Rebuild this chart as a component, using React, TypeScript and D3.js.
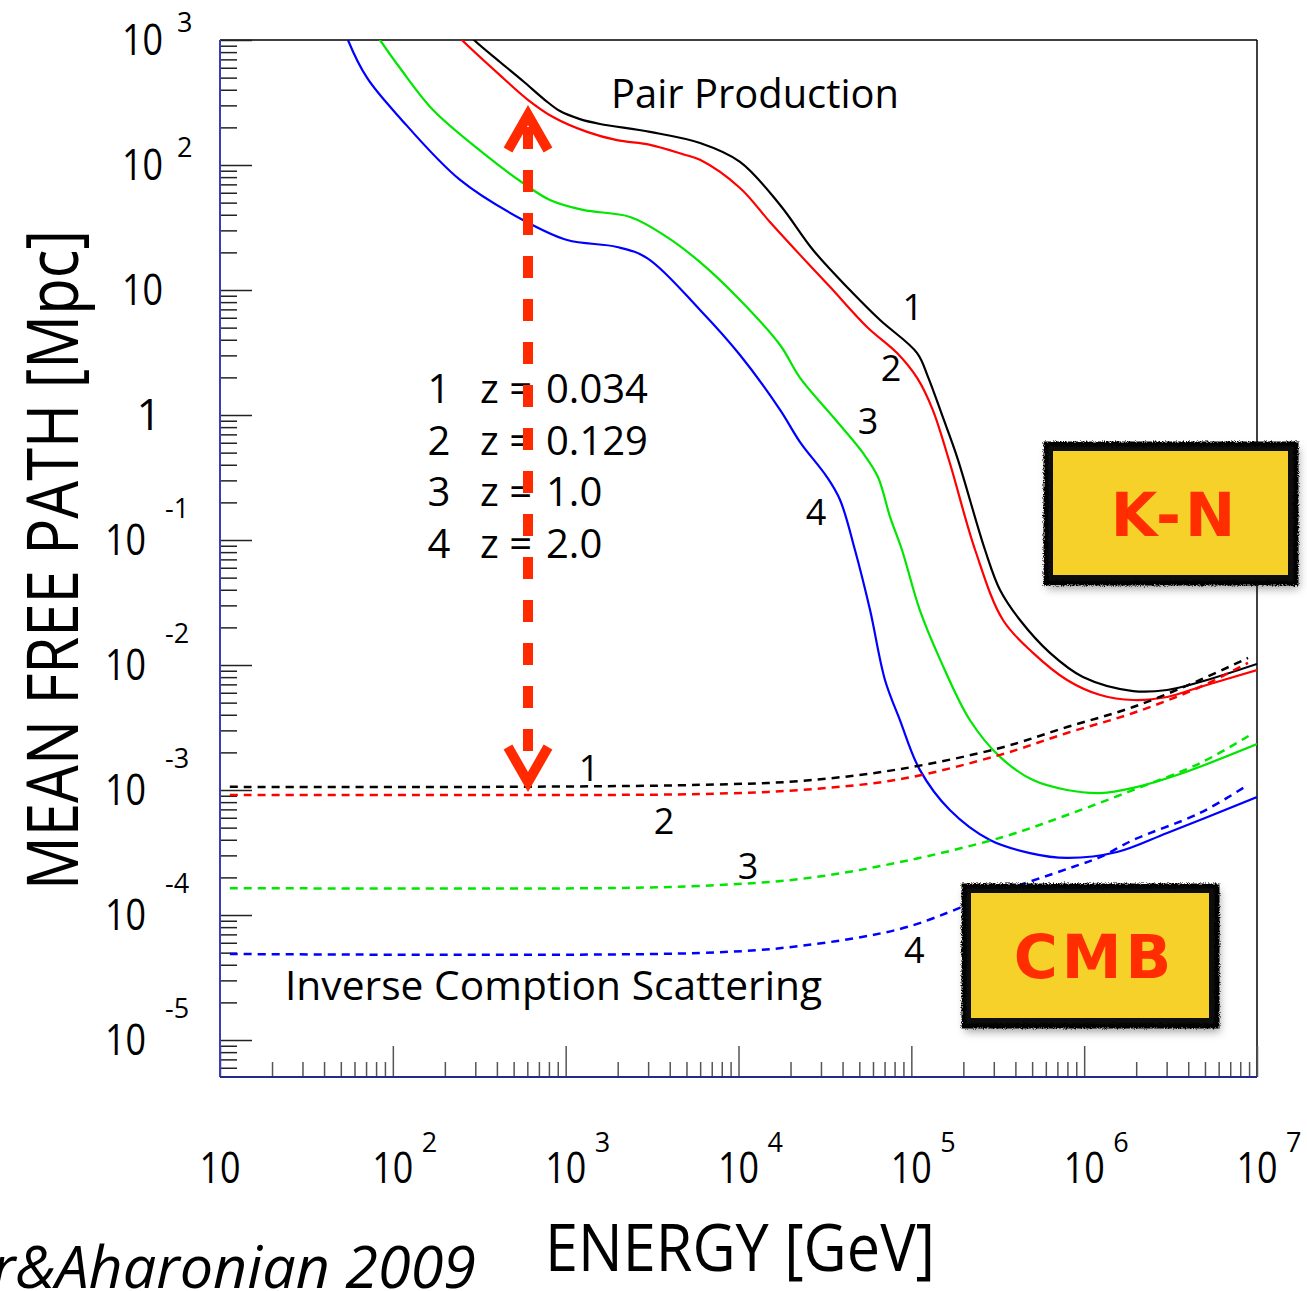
import React, { useRef, useEffect } from "react";
import * as d3 from "d3";

const W = 1307;
const H = 1291;
const plot = { left: 220, top: 40, right: 1257, bottom: 1077 };

// axis ranges
const energyDomain = [10, 1e7]; // GeV
const mfpDomain = [5.06e-6, 1e3]; // Mpc
const xTickExps = [1, 2, 3, 4, 5, 6, 7];
const yTickExps = [-5, -4, -3, -2, -1, 0, 1, 2, 3];

// pair production, solid curves (E in GeV, mean free path in Mpc)
const pp1E = [245, 295, 417, 566, 759, 927, 1210, 1580, 3080, 5990, 10200, 17400, 27000, 44100, 65900, 108000, 125000, 152000, 184000, 267000, 326000, 425000, 634000, 984000, 1.92e6, 3.02e6, 4.68e6, 1e7];
const pp1L = [1318, 1000, 667, 470, 331, 270, 233, 213, 184, 150, 106, 47.9, 20.9, 10, 5.75, 3.13, 2.01, 0.964, 0.461, 0.0832, 0.0398, 0.0229, 0.0125, 0.00802, 0.00619, 0.00631, 0.00731, 0.0102];

const pp2E = [200, 251, 434, 597, 845, 1330, 1980, 3080, 4770, 5990, 10200, 15200, 22700, 33800, 55400, 82700, 108000, 133000, 167000, 234000, 339000, 506000, 796000, 1.24e6, 1.92e6, 3.02e6, 4.68e6, 1e7];
const pp2L = [1393, 1000, 497, 337, 242, 184, 158, 145, 122, 110, 65.5, 35, 19.1, 10.6, 5.06, 3.13, 1.98, 1.1, 0.413, 0.0832, 0.0229, 0.0125, 0.00759, 0.00575, 0.00525, 0.00555, 0.00667, 0.00912];

const pp3E = [71.8, 84.3, 110, 171, 332, 566, 811, 1260, 2360, 3860, 5990, 10200, 17400, 22700, 35300, 52500, 64100, 75300, 88300, 112000, 147000, 218000, 326000, 506000, 796000, 1.24e6, 1.92e6, 3.73e6, 1e7];
const pp3L = [1393, 1000, 597, 275, 125, 71.8, 52.5, 43.7, 38.4, 26.5, 16.7, 8.32, 3.63, 1.98, 0.964, 0.497, 0.319, 0.153, 0.0832, 0.0275, 0.011, 0.00363, 0.00184, 0.0012, 0.001, 0.000946, 0.00104, 0.00137, 0.00233];

const pp4E = [50.8, 55, 71, 110, 245, 566, 1020, 1980, 2960, 5990, 10200, 17400, 22700, 32500, 38700, 47200, 57700, 70400, 85900, 112000, 167000, 285000, 486000, 796000, 1.55e6, 3.02e6, 1e7];
const pp4L = [1393, 1000, 497, 238, 75.9, 36.3, 25.1, 22.1, 18.0, 6.92, 3.02, 1.1, 0.608, 0.319, 0.209, 0.0832, 0.0275, 0.00759, 0.00363, 0.00145, 0.000692, 0.000398, 0.000313, 0.000286, 0.000319, 0.000453, 0.000879];

// inverse compton on CMB, dashed curves
const ic12E = [11.4, 417, 5990, 22700, 85900, 326000, 796000, 1.92e6, 4.68e6, 8.87e6];
const ic1L = [1.06e-3, 1.06e-3, 1.1e-3, 1.18e-3, 1.47e-3, 2.17e-3, 3.19e-3, 4.61e-3, 7.59e-3, 1.14e-2];
const ic2L = [9.12e-4, 9.12e-4, 9.29e-4, 1e-3, 1.22e-3, 1.91e-3, 2.86e-3, 4.13e-3, 6.67e-3, 1.04e-2];
const ic3E = [11.4, 1580, 5990, 22700, 85900, 339000, 796000, 1.92e6, 4.68e6, 9.12e6];
const ic3L = [1.64e-4, 1.64e-4, 1.71e-4, 1.94e-4, 2.65e-4, 4.21e-4, 6.31e-4, 1e-3, 1.64e-3, 2.75e-3];
const ic4E = [11.4, 5990, 22700, 85900, 167000, 260000, 828000, 1.24e6, 1.92e6, 4.68e6, 8.51e6];
const ic4L = [4.88e-5, 4.97e-5, 5.65e-5, 7.73e-5, 1.06e-4, 1.37e-4, 2.38e-4, 2.91e-4, 3.98e-4, 6.55e-4, 1.06e-3];

const curveColors = ["#000000", "#ff0000", "#00e600", "#0000ff"];
const redshifts = ["0.034", "0.129", "1.0", "2.0"];

// where the numbers 1..4 sit next to the curves (data coords)
const ppLabelE = [1.02e5, 7.62e4, 5.61e4, 2.81e4];
const ppLabelL = [7.3, 2.38, 0.895, 0.1675];
const icLabelE = [1365, 3707, 11350, 1.04e5];
const icLabelL = [1.5e-3, 5.65e-4, 2.47e-4, 5.25e-5];

const FONT = "'Open Sans', 'Noto Sans', sans-serif";

const App = () => {
  const svgRef = useRef(null);

  useEffect(() => {
    const svg = d3.select(svgRef.current);
    svg.selectAll("*").remove();

    const x = d3.scaleLog().domain(energyDomain).range([plot.left, plot.right]);
    const y = d3.scaleLog().domain(mfpDomain).range([plot.bottom, plot.top]);

    const defs = svg.append("defs");
    defs.append("clipPath").attr("id", "plotclip")
      .append("rect")
      .attr("x", plot.left).attr("y", plot.top)
      .attr("width", plot.right - plot.left).attr("height", plot.bottom - plot.top);

    const rough = defs.append("filter").attr("id", "rough")
      .attr("x", "-5%").attr("y", "-5%").attr("width", "110%").attr("height", "110%");
    rough.append("feTurbulence").attr("type", "fractalNoise")
      .attr("baseFrequency", "0.9").attr("numOctaves", 2).attr("seed", 3).attr("result", "noise");
    rough.append("feDisplacementMap").attr("in", "SourceGraphic").attr("in2", "noise")
      .attr("scale", 5).attr("xChannelSelector", "R").attr("yChannelSelector", "G");

    const shadow = defs.append("filter").attr("id", "shadow")
      .attr("x", "-10%").attr("y", "-10%").attr("width", "125%").attr("height", "130%");
    shadow.append("feDropShadow").attr("dx", 2).attr("dy", 5).attr("stdDeviation", 4)
      .attr("flood-color", "#000").attr("flood-opacity", 0.35);

    // frame
    svg.append("line").attr("x1", plot.left).attr("x2", plot.right)
      .attr("y1", plot.top).attr("y2", plot.top).attr("stroke", "#000").attr("stroke-width", 1.5);
    svg.append("line").attr("x1", plot.right).attr("x2", plot.right)
      .attr("y1", plot.top).attr("y2", plot.bottom).attr("stroke", "#000").attr("stroke-width", 1.5);

    // y ticks (pointing into plot)
    const yMinor = y.ticks().filter(v => Math.abs(Math.log10(v) - Math.round(Math.log10(v))) > 1e-6);
    const yMajor = yTickExps.map(e => Math.pow(10, e));
    const yg = svg.append("g").attr("transform", `translate(${plot.left},0)`);
    yg.append("g").call(d3.axisRight(y).tickValues(yMinor).tickSize(17).tickFormat(() => ""));
    yg.append("g").call(d3.axisRight(y).tickValues(yMajor).tickSize(32).tickFormat(() => ""));
    yg.selectAll(".domain").remove();
    yg.selectAll(".tick line").attr("stroke", "#222").attr("stroke-width", 1.5);

    // x ticks (pointing up)
    const xMinor = x.ticks().filter(v => Math.abs(Math.log10(v) - Math.round(Math.log10(v))) > 1e-6);
    const xMajor = xTickExps.map(e => Math.pow(10, e));
    const xg = svg.append("g").attr("transform", `translate(0,${plot.bottom})`);
    xg.append("g").call(d3.axisTop(x).tickValues(xMinor).tickSize(15).tickFormat(() => ""));
    xg.append("g").call(d3.axisTop(x).tickValues(xMajor).tickSize(31).tickFormat(() => ""));
    xg.selectAll(".domain").remove();
    xg.selectAll(".tick line").attr("stroke", "#555").attr("stroke-width", 1.5);

    // left and bottom axis lines
    svg.append("line").attr("x1", plot.left).attr("x2", plot.left)
      .attr("y1", plot.top).attr("y2", plot.bottom).attr("stroke", "#3c3cb4").attr("stroke-width", 2);
    svg.append("line").attr("x1", plot.left).attr("x2", plot.right)
      .attr("y1", plot.bottom).attr("y2", plot.bottom).attr("stroke", "#26288a").attr("stroke-width", 2);

    // y tick labels
    yTickExps.forEach(e => {
      const cy = y(Math.pow(10, e));
      if (e === 0) {
        svg.append("text").attr("x", 161).attr("y", cy + 15).attr("text-anchor", "end")
          .attr("font-family", FONT).attr("font-size", 43).text("1");
        return;
      }
      const neg = e < 0;
      const right = neg ? 146 : 163;
      svg.append("text").attr("x", right).attr("y", cy + 15).attr("text-anchor", "end")
        .attr("font-family", FONT).attr("font-size", 43)
        .attr("textLength", 41).attr("lengthAdjust", "spacingAndGlyphs").text("10");
      if (e !== 1) {
        svg.append("text").attr("x", neg ? 165 : 177).attr("y", neg ? cy - 22 : cy - 8)
          .attr("font-family", FONT).attr("font-size", 27).text(String(e));
      }
    });

    // x tick labels
    xTickExps.forEach(e => {
      const cx = x(Math.pow(10, e));
      svg.append("text").attr("x", cx).attr("y", 1183).attr("text-anchor", "middle")
        .attr("font-family", FONT).attr("font-size", 43)
        .attr("textLength", 41).attr("lengthAdjust", "spacingAndGlyphs").text("10");
      if (e !== 1) {
        svg.append("text").attr("x", cx + 29).attr("y", 1152)
          .attr("font-family", FONT).attr("font-size", 27).text(String(e));
      }
    });

    // axis titles
    svg.append("text").attr("transform", "translate(78,560) rotate(-90)")
      .attr("text-anchor", "middle").attr("font-family", FONT).attr("font-size", 72)
      .attr("textLength", 660).attr("lengthAdjust", "spacingAndGlyphs")
      .text("MEAN FREE PATH [Mpc]");
    svg.append("text").attr("x", 545).attr("y", 1271)
      .attr("font-family", FONT).attr("font-size", 66)
      .attr("textLength", 390).attr("lengthAdjust", "spacingAndGlyphs")
      .text("ENERGY [GeV]");

    // curves
    const line = d3.line().x(d => x(d[0])).y(d => y(d[1])).curve(d3.curveCatmullRom.alpha(0.5));
    const curves = [
      { E: pp1E, L: pp1L, c: 0, dash: false },
      { E: pp2E, L: pp2L, c: 1, dash: false },
      { E: pp3E, L: pp3L, c: 2, dash: false },
      { E: pp4E, L: pp4L, c: 3, dash: false },
      { E: ic12E, L: ic1L, c: 0, dash: true },
      { E: ic12E, L: ic2L, c: 1, dash: true },
      { E: ic3E, L: ic3L, c: 2, dash: true },
      { E: ic4E, L: ic4L, c: 3, dash: true },
    ];
    const cg = svg.append("g").attr("clip-path", "url(#plotclip)");
    curves.forEach(s => {
      cg.append("path")
        .attr("d", line(s.E.map((e, i) => [e, s.L[i]])))
        .attr("fill", "none")
        .attr("stroke", curveColors[s.c])
        .attr("stroke-width", s.dash ? 2.5 : 2.2)
        .attr("stroke-dasharray", s.dash ? "8 6" : null);
    });

    // curve number labels
    ppLabelE.forEach((e, i) => {
      svg.append("text").attr("x", x(e)).attr("y", y(ppLabelL[i]) + 13)
        .attr("text-anchor", "middle").attr("font-family", FONT).attr("font-size", 36)
        .text(String(i + 1));
    });
    icLabelE.forEach((e, i) => {
      svg.append("text").attr("x", x(e)).attr("y", y(icLabelL[i]) + 13)
        .attr("text-anchor", "middle").attr("font-family", FONT).attr("font-size", 36)
        .text(String(i + 1));
    });

    // annotations
    svg.append("text").attr("x", 611).attr("y", 108).attr("font-family", FONT)
      .attr("font-size", 40).attr("textLength", 288).attr("lengthAdjust", "spacingAndGlyphs")
      .text("Pair Production");
    svg.append("text").attr("x", 285).attr("y", 1000).attr("font-family", FONT)
      .attr("font-size", 40).attr("textLength", 537).attr("lengthAdjust", "spacingAndGlyphs")
      .text("Inverse Comption Scattering");

    // redshift legend
    redshifts.forEach((z, i) => {
      const by = 403 + i * 51.7;
      svg.append("text").attr("x", 439).attr("y", by).attr("text-anchor", "middle")
        .attr("font-family", FONT).attr("font-size", 40).text(String(i + 1));
      svg.append("text").attr("x", 480).attr("y", by)
        .attr("font-family", FONT).attr("font-size", 40).text("z =");
      svg.append("text").attr("x", 546).attr("y", by)
        .attr("font-family", FONT).attr("font-size", 40).text(z);
    });

    // red double arrow
    const ax = 528;
    const arrow = svg.append("g").attr("stroke", "#ff2a00").attr("fill", "none");
    arrow.append("line").attr("x1", ax).attr("x2", ax).attr("y1", 127).attr("y2", 768)
      .attr("stroke-width", 10).attr("stroke-dasharray", "22 21");
    arrow.append("path").attr("d", `M${ax - 20},${150} L${ax},${115} L${ax + 20},${150}`)
      .attr("stroke-width", 10).attr("stroke-linejoin", "miter");
    arrow.append("path").attr("d", `M${ax - 20},${747} L${ax},${782} L${ax + 20},${747}`)
      .attr("stroke-width", 10).attr("stroke-linejoin", "miter");

    // K-N and CMB tags
    const tags = [
      { label: "K-N", x0: 1045, y0: 443, w: 252, h: 141 },
      { label: "CMB", x0: 963, y0: 885, w: 255, h: 142 },
    ];
    tags.forEach(t => {
      const g = svg.append("g");
      g.append("rect").attr("x", t.x0).attr("y", t.y0).attr("width", t.w).attr("height", t.h)
        .attr("fill", "#111").attr("filter", "url(#shadow)");
      g.append("rect").attr("x", t.x0 + 1).attr("y", t.y0 + 1).attr("width", t.w - 2).attr("height", t.h - 2)
        .attr("fill", "none").attr("stroke", "#000").attr("stroke-width", 5).attr("filter", "url(#rough)");
      g.append("rect").attr("x", t.x0 + 8).attr("y", t.y0 + 8).attr("width", t.w - 17).attr("height", t.h - 17)
        .attr("fill", "#f5d12a");
      g.append("text").attr("x", t.x0 + t.w / 2 + 4).attr("y", t.y0 + t.h / 2 + 22)
        .attr("text-anchor", "middle").attr("font-family", "'DejaVu Sans', sans-serif")
        .attr("font-weight", "bold").attr("font-size", 60).attr("fill", "#ff2d00")
        .attr("letter-spacing", 4)
        .text(t.label);
    });

    // reference, cut by the page edge like in the original
    svg.append("text").attr("x", -8).attr("y", 1288)
      .attr("font-family", FONT).attr("font-style", "italic").attr("font-size", 58)
      .attr("textLength", 484).attr("lengthAdjust", "spacingAndGlyphs")
      .text("r&Aharonian 2009");
  }, []);

  return (
    <svg
      ref={svgRef}
      width={W}
      height={H}
      style={{ position: "absolute", left: 0, top: 0, background: "#fff" }}
    />
  );
};

export default App;
